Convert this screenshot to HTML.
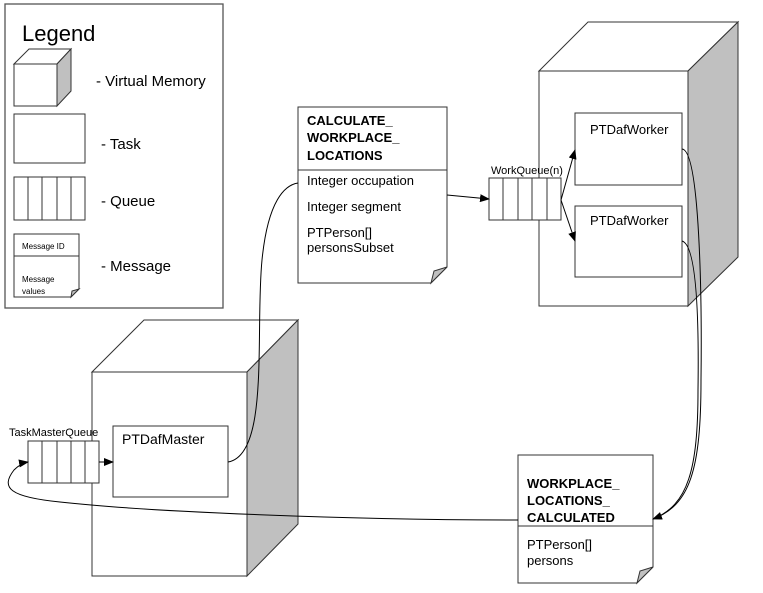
<!DOCTYPE html>
<html><head><meta charset="utf-8"><style>
html,body{margin:0;padding:0;background:#fff;}
svg{display:block;}
text{font-family:"Liberation Sans",Arial,sans-serif;fill:#000;}
</style></head><body>
<svg width="763" height="593" viewBox="0 0 763 593" xmlns="http://www.w3.org/2000/svg">
<defs>
<marker id="ar" markerWidth="10" markerHeight="8" refX="9" refY="4" orient="auto" markerUnits="userSpaceOnUse">
<path d="M0,0 L10,4 L0,8 Z" fill="#000"/></marker>
</defs>
<g stroke="#555" stroke-width="1.3" fill="#fff">
<!-- Legend -->
<rect x="5" y="4" width="218" height="304"/>
</g>
<text x="22" y="41" font-size="22">Legend</text>
<g stroke="#333" stroke-width="1" fill="#fff">
<polygon points="14,64 29,49 71,49 57,64"/>
<polygon points="57,64 71,49 71,91 57,106" fill="#c0c0c0"/>
<rect x="14" y="64" width="43" height="42"/>
<rect x="14" y="114" width="71" height="49"/>
<rect x="14" y="177" width="71" height="43"/>
<line x1="28" y1="177" x2="28" y2="220"/><line x1="42" y1="177" x2="42" y2="220"/><line x1="57" y1="177" x2="57" y2="220"/><line x1="71" y1="177" x2="71" y2="220"/>
<polygon points="14,234 79,234 79,289 71,297 14,297"/>
<line x1="14" y1="256" x2="79" y2="256"/>
<polygon points="71,297 79,289 72,291" fill="#c0c0c0"/>
</g>
<text x="96" y="86" font-size="15">- Virtual Memory</text>
<text x="101" y="149" font-size="15">- Task</text>
<text x="101" y="206" font-size="15">- Queue</text>
<text x="101" y="271" font-size="15">- Message</text>
<text x="22" y="249" font-size="8">Message ID</text>
<text x="22" y="282" font-size="8">Message</text>
<text x="22" y="294" font-size="8">values</text>

<!-- Worker cube -->
<g stroke="#333" stroke-width="1" fill="#fff">
<polygon points="539,71 588,22 738,22 688,71"/>
<polygon points="688,71 738,22 738,257 688,306" fill="#c0c0c0"/>
<rect x="539" y="71" width="149" height="235"/>
<rect x="575" y="113" width="107" height="72"/>
<rect x="575" y="206" width="107" height="71"/>
<rect x="489" y="178" width="72" height="42"/>
<line x1="503" y1="178" x2="503" y2="220"/><line x1="518" y1="178" x2="518" y2="220"/><line x1="532" y1="178" x2="532" y2="220"/><line x1="547" y1="178" x2="547" y2="220"/>
</g>
<text x="590" y="134" font-size="13">PTDafWorker</text>
<text x="590" y="225" font-size="13">PTDafWorker</text>
<text x="491" y="174" font-size="11">WorkQueue(n)</text>

<!-- Master cube -->
<g stroke="#333" stroke-width="1" fill="#fff">
<polygon points="92,372 144,320 298,320 247,372"/>
<polygon points="247,372 298,320 298,524 247,576" fill="#c0c0c0"/>
<rect x="92" y="372" width="155" height="204"/>
<rect x="113" y="426" width="115" height="71"/>
<rect x="28" y="441" width="71" height="42"/>
<line x1="42" y1="441" x2="42" y2="483"/><line x1="57" y1="441" x2="57" y2="483"/><line x1="71" y1="441" x2="71" y2="483"/><line x1="85" y1="441" x2="85" y2="483"/>
</g>
<text x="122" y="444" font-size="14">PTDafMaster</text>
<text x="9" y="436" font-size="11">TaskMasterQueue</text>

<!-- Messages -->
<g stroke="#333" stroke-width="1" fill="#fff">
<polygon points="298,107 447,107 447,267 431,283 298,283"/>
<line x1="298" y1="170" x2="447" y2="170"/>
<polygon points="431,283 447,267 434,271" fill="#c0c0c0"/>
<polygon points="518,455 653,455 653,567 637,583 518,583"/>
<line x1="518" y1="526" x2="653" y2="526"/>
<polygon points="637,583 653,567 640,571" fill="#c0c0c0"/>
</g>
<text x="307" y="125" font-size="13" font-weight="bold">CALCULATE_</text>
<text x="307" y="142" font-size="13" font-weight="bold">WORKPLACE_</text>
<text x="307" y="160" font-size="13" font-weight="bold">LOCATIONS</text>
<text x="307" y="185" font-size="13">Integer occupation</text>
<text x="307" y="211" font-size="13">Integer segment</text>
<text x="307" y="237" font-size="13">PTPerson[]</text>
<text x="307" y="252" font-size="13">personsSubset</text>
<text x="527" y="488" font-size="13" font-weight="bold">WORKPLACE_</text>
<text x="527" y="505" font-size="13" font-weight="bold">LOCATIONS_</text>
<text x="527" y="522" font-size="13" font-weight="bold">CALCULATED</text>
<text x="527" y="549" font-size="13">PTPerson[]</text>
<text x="527" y="565" font-size="13">persons</text>

<!-- Connectors -->
<g stroke="#000" stroke-width="1" fill="none">
<path d="M228,462 C270,455 255,330 262,260 C268,200 285,185 298,183"/>
<path d="M447,195 L489,199" marker-end="url(#ar)"/>
<path d="M561,200 L575,150" marker-end="url(#ar)"/>
<path d="M561,200 L575,241" marker-end="url(#ar)"/>
<path d="M99,462 L113,462" marker-end="url(#ar)"/>
<path d="M682,149 C700,150 702,300 701,380 C701,470 690,505 653,519" marker-end="url(#ar)"/>
<path d="M682,241 C697,245 699,320 698,390 C698,470 688,505 653,519"/>
<path d="M518,520 C350,520 150,512 60,502 C10,497 0,488 14,470 C18,466 22,463 28,462" marker-end="url(#ar)"/>
</g>
</svg>
</body></html>
